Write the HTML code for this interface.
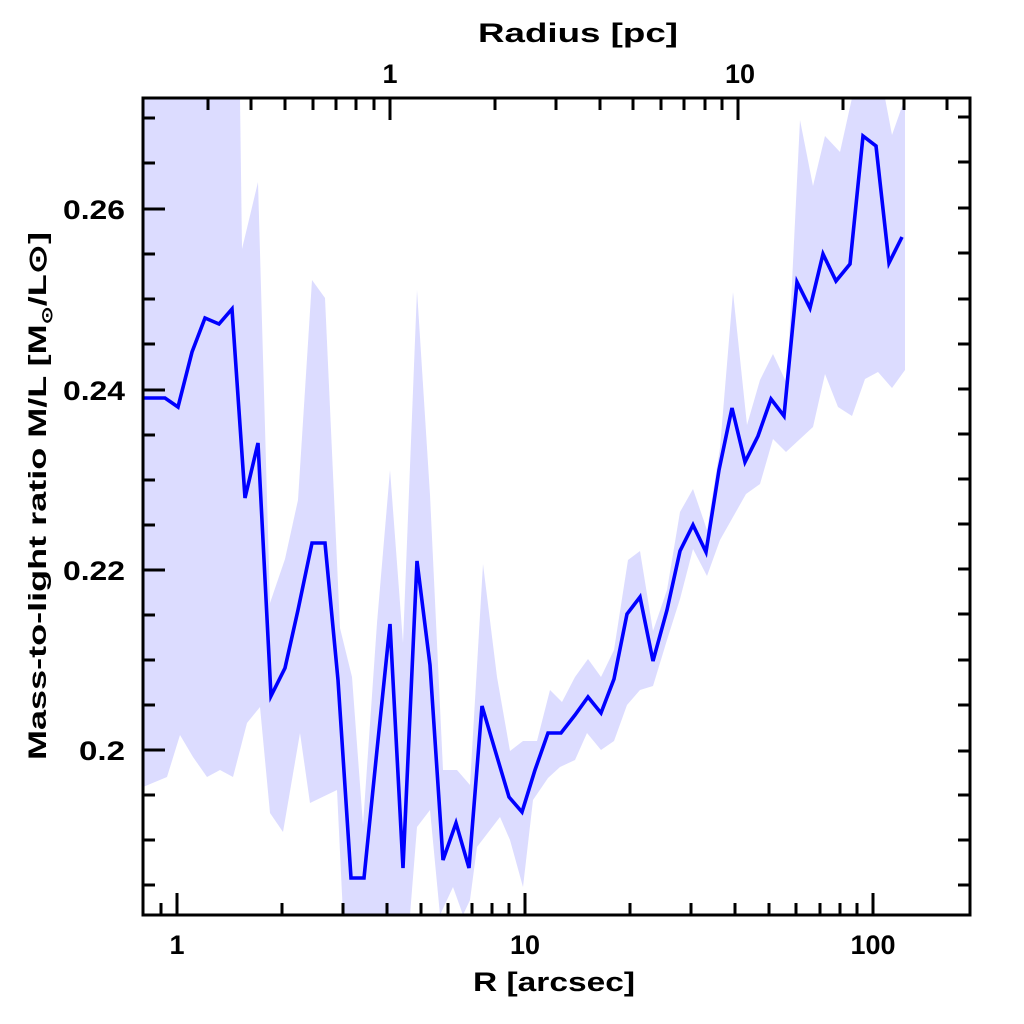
<!DOCTYPE html>
<html><head><meta charset="utf-8"><style>html,body{margin:0;padding:0;background:#fff}svg{display:block}</style></head>
<body>
<svg width="1024" height="1024" viewBox="0 0 1024 1024" xmlns="http://www.w3.org/2000/svg" font-family="Liberation Sans, sans-serif" font-weight="bold">
<defs><clipPath id="c"><rect x="143" y="98" width="827" height="817"/></clipPath></defs>
<g clip-path="url(#c)">
<polygon fill="#dcdcff" points="143,98 240,98 242,249 258,182 270,603 285,559 298,500 312,280 325,298 340,628 352,677 363,825 377,623 390,470 403,643 417,290 430,495 443,770 457,770 470,785 483,564 497,677 510,751 523,741 537,741 550,690 562,702 575,677 588,659 601,677 614,650 628,560 640,551 653,631 667,590 680,512 693,489 707,530 720,448 733,292 747,425 760,380 773,354 787,384 800,120 813,186 825,136 840,152 852,98 885,98 892,135 905,98 905,370 892,388 878,372 865,379 852,416 838,407 825,374 813,427 800,439 786,452 773,439 760,484 746,494 733,517 720,540 707,576 693,549 680,599 667,640 653,686 640,690 627,705 614,741 601,750 587,733 575,760 560,767 548,778 533,800 523,887 510,840 500,817 477,847 470,900 463,915 453,887 440,915 430,810 417,827 410,915 343,915 337,790 310,803 300,733 283,832 270,813 260,707 247,723 233,777 220,770 207,777 193,757 180,735 167,777 143,787"/>
<polyline fill="none" stroke="#0000ff" stroke-width="3.6" stroke-linejoin="miter" points="143,398 165,398 178,407 192,352 205,318 219,324 232,309 245,498 258,443 271,696 285,668 298,610 312,543 325,543 338,680 351,878 364,878 377,750 390,624 403,868 417,561 430,665 443,860 456,823 469,868 482,706 495,750 509,797 522,812 535,770 548,733 561,733 575,715 588,697 601,713 614,679 627,614 640,597 653,661 667,610 680,551 693,525 706,552 719,470 732,408 745,462 758,436 771,399 784,416 797,282 810,308 823,254 836,281 850,264 863,136 876,146 889,263 902,237"/>
</g>
<rect x="143" y="98" width="827" height="817" fill="none" stroke="#000" stroke-width="3"/>
<g stroke="#000" stroke-width="3">
<path d="M161,915v-12M177,915v-22M282,915v-12M343,915v-12M387,915v-12M421,915v-12M448,915v-12M472,915v-12M492,915v-12M509,915v-12M525,915v-22M630,915v-12M691,915v-12M735,915v-12M769,915v-12M796,915v-12M820,915v-12M840,915v-12M857,915v-12M873,915v-22"/>
<path d="M208,98v12M251,98v12M285,98v12M313,98v12M336,98v12M356,98v12M374,98v12M390,98v22M495,98v12M556,98v12M600,98v12M633,98v12M661,98v12M684,98v12M705,98v12M722,98v12M738,98v22M843,98v12M904,98v12M947,98v12"/>
<path d="M143,118h12M143,163h12M143,209h22M143,254h12M143,299h12M143,344h12M143,390h22M143,435h12M143,480h12M143,525h12M143,570h22M143,615h12M143,660h12M143,705h12M143,750h22M143,795h12M143,840h12M143,885h12"/>
<path d="M970,117h-12M970,162h-12M970,208h-12M970,253h-12M970,299h-12M970,344h-12M970,389h-12M970,434h-12M970,479h-12M970,524h-12M970,569h-12M970,614h-12M970,660h-12M970,705h-12M970,751h-12M970,795h-12M970,840h-12M970,885h-12"/>
</g>
<g font-size="27" fill="#000" text-anchor="middle">
<text x="578" y="42" textLength="200" lengthAdjust="spacingAndGlyphs">Radius [pc]</text>
<text x="390" y="83">1</text>
<text x="740" y="83">10</text>
<text x="177" y="954">1</text>
<text x="525" y="954">10</text>
<text x="873" y="954">100</text>
<text x="554" y="991" textLength="162" lengthAdjust="spacingAndGlyphs">R [arcsec]</text>
</g>
<g font-size="27" fill="#000" text-anchor="end">
<text x="125" y="219" textLength="62" lengthAdjust="spacingAndGlyphs">0.26</text>
<text x="125" y="400" textLength="62" lengthAdjust="spacingAndGlyphs">0.24</text>
<text x="125" y="580" textLength="62" lengthAdjust="spacingAndGlyphs">0.22</text>
<text x="125" y="760" textLength="46" lengthAdjust="spacingAndGlyphs">0.2</text>
</g>
<text transform="translate(46,496) rotate(-90)" font-size="25" text-anchor="middle" fill="#000" textLength="528" lengthAdjust="spacingAndGlyphs">Mass-to-light ratio M/L [M<tspan font-size="15" dy="6">⊙</tspan><tspan dy="-6">/L⊙]</tspan></text>
</svg>
</body></html>
